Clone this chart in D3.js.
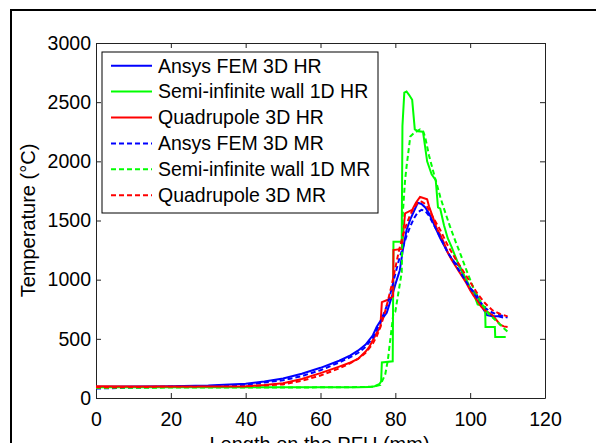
<!DOCTYPE html>
<html>
<head>
<meta charset="utf-8">
<script src="https://cdn.jsdelivr.net/npm/d3@7"></script>
<style>
  body { margin: 0; background: #fff; }
  svg { display: block; font-family: "Liberation Sans", Arial, sans-serif; }
  .axis text { font-size: 19.5px; fill: #000; }
  .axis path, .axis line { stroke: #222; }
</style>
</head>
<body>
<div id="graphic"></div>
<script>
// Data: [length (mm), temperature (°C)]
var ansysHR = [[0,95],[10,97],[20,100],[30,105],[40,120],[45,140],[50,165],[55,205],[60,255],[65,315],[68,360],[70,400],[72,450],[74,530],[75,600],[76,650],[77.7,720],[79,850],[80,960],[81.2,1080],[82,1250],[83,1420],[84,1510],[85,1580],[86,1650],[87,1640],[88,1610],[89,1560],[90,1490],[91,1420],[92,1350],[93,1290],[94,1230],[95,1180],[96,1140],[97.3,1110],[98,1050],[99,980],[100,930],[101.8,870],[103,780],[104.5,700],[106,690],[107.5,690],[108.8,680]];
var semiHR = [[0,90],[10,90],[20,90],[30,90],[40,90],[50,90],[60,90],[70,90],[73,92],[74.5,100],[75.8,120],[76.2,140],[76.4,300],[79.3,310],[79.5,1320],[81.7,1320],[81.9,2300],[82.4,2580],[83,2590],[83.7,2560],[84.5,2520],[85.2,2270],[86,2255],[87.4,2250],[88.5,2000],[89.7,1890],[90.8,1840],[91.4,1610],[92,1600],[93,1460],[94,1350],[95,1280],[96,1200],[97,1120],[98,1060],[99,1000],[100,930],[101.3,850],[102,790],[104,770],[104.1,600],[106.6,600],[106.7,515],[109.5,515]];
var quadHR = [[0,100],[10,98],[20,97],[30,98],[40,100],[45,110],[50,125],[55,160],[60,210],[65,265],[68,300],[70,330],[72,390],[73,430],[74,490],[75,550],[76,600],[76.4,810],[78,830],[79.4,860],[79.5,1250],[81.7,1260],[82.6,1560],[84.5,1590],[85.5,1650],[86.6,1700],[87.5,1690],[88.5,1680],[89,1620],[90,1530],[91,1440],[92,1380],[93,1310],[94,1230],[95,1170],[96,1120],[97,1070],[98,1020],[99,970],[100,910],[101,860],[102,820],[103,770],[104,740],[105,720],[106,700],[107,660],[108,620],[109,605],[110,600]];
var ansysMR = [[0,80],[10,88],[20,95],[30,100],[40,112],[50,150],[55,185],[60,235],[65,300],[68,345],[70,380],[72,430],[74,510],[76,640],[78,800],[79,920],[80,1050],[81,1170],[82,1270],[83,1370],[84,1450],[85,1520],[86,1570],[87,1590],[88,1580],[89,1540],[90,1480],[92,1360],[94,1230],[96,1130],[98,1030],[100,930],[102,840],[104,760],[106,720],[108,700],[110,680]];
var semiMR = [[0,85],[20,88],[40,88],[60,90],[70,92],[74,95],[76,110],[77.3,200],[78,320],[79.5,720],[80,730],[81.7,1060],[82,1560],[82.6,1840],[83,1955],[84,2210],[85,2240],[86.6,2270],[87.5,2250],[88,2200],[89,2050],[90,1930],[91,1815],[92,1700],[93,1600],[94.6,1450],[96,1330],[97.3,1225],[99,1080],[101,920],[103,800],[105,710],[107,650],[109,590],[110,560]];
var quadMR = [[0,90],[20,95],[40,98],[50,115],[55,145],[60,190],[65,250],[68,295],[70,330],[72,380],[74,460],[75,520],[76,600],[77,700],[78,820],[79,950],[80,1100],[81,1250],[82,1370],[83,1470],[84,1550],[85,1610],[86,1650],[87,1660],[88,1640],[89,1590],[90,1530],[92,1420],[94,1290],[96,1180],[98,1080],[100,980],[102,880],[104,800],[106,740],[108,710],[110,690]];

var seriesNames = ["Ansys FEM 3D HR", "Semi-infinite wall 1D HR", "Quadrupole 3D HR", "Ansys FEM 3D MR", "Semi-infinite wall 1D MR", "Quadrupole 3D MR"];
var seriesData = [ansysHR, semiHR, quadHR, ansysMR, semiMR, quadMR];
var seriesColours = ["#0000ff", "#00ff00", "#ff0000", "#0000ff", "#00ff00", "#ff0000"];
var seriesDashed = [false, false, false, true, true, true];

var xTicks = [0, 20, 40, 60, 80, 100, 120];
var yTicks = [0, 500, 1000, 1500, 2000, 2500, 3000];

var width = 596, height = 443;
var margin = { left: 96, top: 43, right: 51, bottom: 45 };
var chart_width = width - margin.left - margin.right;
var chart_height = height - margin.top - margin.bottom;

var svg = d3.select("#graphic")
  .append("svg")
  .attr("width", width)
  .attr("height", height);

// Outer figure frame
svg.append("rect")
  .attr("x", 11).attr("y", 10)
  .attr("width", 620).attr("height", 460)
  .attr("fill", "none").attr("stroke", "#000").attr("stroke-width", 2);

var g = svg.append("g")
  .attr("transform", "translate(" + margin.left + "," + margin.top + ")");

// Scales
var x = d3.scaleLinear().domain([0, 120]).range([0, chart_width]);
var y = d3.scaleLinear().domain([0, 3000]).range([chart_height, 0]);

// Axes (ticks pointing inward on all four sides)
g.append("g").attr("class", "axis")
  .attr("transform", "translate(0," + chart_height + ")")
  .call(d3.axisBottom(x).tickValues(xTicks).tickFormat(d3.format("d")).tickSizeInner(-5).tickSizeOuter(0).tickPadding(14));
g.append("g").attr("class", "axis")
  .call(d3.axisLeft(y).tickValues(yTicks).tickFormat(d3.format("d")).tickSizeInner(-5).tickSizeOuter(0).tickPadding(5));
g.append("g").attr("class", "axis")
  .call(d3.axisTop(x).tickValues(xTicks).tickSizeInner(-5).tickSizeOuter(0).tickFormat(""));
g.append("g").attr("class", "axis")
  .attr("transform", "translate(" + chart_width + ",0)")
  .call(d3.axisRight(y).tickValues(yTicks).tickSizeInner(-5).tickSizeOuter(0).tickFormat(""));

// Axis labels
svg.append("text")
  .attr("transform", "translate(35," + (margin.top + chart_height / 2) + ") rotate(-90)")
  .attr("text-anchor", "middle")
  .style("font-size", "20px")
  .text("Temperature (°C)");

svg.append("text")
  .attr("x", margin.left + chart_width / 2 - 1)
  .attr("y", 451)
  .attr("text-anchor", "middle")
  .style("font-size", "20px")
  .text("Length on the PFU (mm)");

// Lines
var line = d3.line()
  .x(function (d) { return x(d[0]); })
  .y(function (d) { return y(d[1]); });

g.selectAll(".series")
  .data(seriesData)
  .enter()
  .append("path")
  .attr("class", "series")
  .attr("d", line)
  .attr("fill", "none")
  .attr("stroke", function (d, i) { return seriesColours[i]; })
  .attr("stroke-width", 2)
  .attr("stroke-dasharray", function (d, i) { return seriesDashed[i] ? "5,3" : null; });

// Legend
var legend = svg.append("g").attr("transform", "translate(102,52)");
legend.append("rect")
  .attr("width", 276).attr("height", 161)
  .attr("fill", "#fff").attr("stroke", "#000").attr("stroke-width", 1);

var item = legend.selectAll(".item")
  .data(seriesNames)
  .enter()
  .append("g")
  .attr("class", "item")
  .attr("transform", function (d, i) { return "translate(0," + (13.7 + i * 25.9) + ")"; });

item.append("line")
  .attr("x1", 9).attr("x2", 50)
  .attr("stroke", function (d, i) { return seriesColours[i]; })
  .attr("stroke-width", 2)
  .attr("stroke-dasharray", function (d, i) { return seriesDashed[i] ? "5,3" : null; });

item.append("text")
  .attr("x", 56)
  .attr("dy", "0.35em")
  .style("font-size", "19.5px")
  .text(function (d) { return d; });
</script>
</body>
</html>
